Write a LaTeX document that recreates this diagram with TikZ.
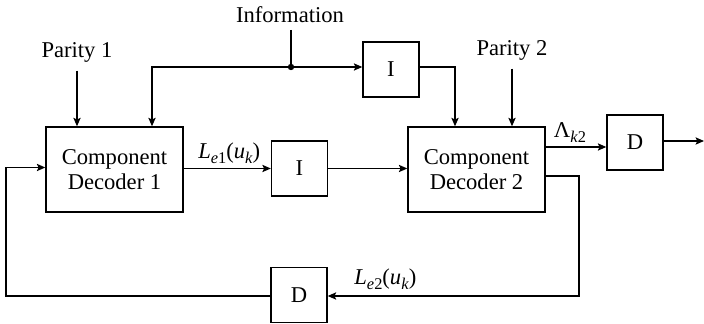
\documentclass[tikz,border=0pt]{standalone}
\usepackage{fontspec}
\setmainfont{Liberation Serif}
\usetikzlibrary{arrows.meta,calc}
\newcommand{\sub}[1]{\raisebox{-0.45ex}{\fontsize{8.2}{9}\selectfont #1}}
\begin{document}
\begin{tikzpicture}[x=0.5pt,y=-0.5pt,
  font=\fontsize{11.3}{13.5}\selectfont,
  line width=0.7pt,
  tip/.style={-{Stealth[length=4.2pt,width=3.6pt,inset=0.8pt]}},
  bigbox/.style={draw,minimum width=68.5pt,minimum height=42.5pt,inner sep=0pt,align=center},
  smallbox/.style={draw,minimum width=28pt,minimum height=27.5pt,inner sep=0pt},
  lbl/.style={inner sep=1pt}]
  \useasboundingbox (0,0) rectangle (704,324);

  % blocks
  \node[bigbox] (dec1) at (114.5,169.5) {Component\\[-1pt]Decoder 1};
  \node[bigbox] (dec2) at (476.5,169.5) {Component\\[-1pt]Decoder 2};
  \node[smallbox] (ia) at (391,69.5) {I};
  \node[smallbox] (ib) at (299.5,168.5) {I};
  \node[smallbox] (dout) at (635,142.5) {D};
  \node[smallbox] (dfb) at (299,295) {D};

  % inputs
  \node[lbl] (info) at (290,15) {Information};
  \node[lbl] (par1) at (77,52) {Parity 1};
  \node[lbl] (par2) at (512,50) {Parity 2};

  % branch point of the information stream
  \coordinate (jn) at (291,67);
  \fill (jn) circle (1.6pt);
  \draw (jn |- info.south) ++(0,4) -- (jn);
  \draw[tip] (jn) -- (jn -| ia.west);
  \draw[tip] (jn) -| ($(dec1.north)+(37.5,0)$);
  \draw[tip] ($(par1.south)+(0,6)$) -- (par1.south |- dec1.north);
  \draw[tip] ($(par2.south)+(0,6)$) -- (par2.south |- dec2.north);
  \draw[tip] (ia.east |- jn) -| ($(dec2.north)+(-21.5,0)$);

  % forward path
  \draw[tip] (dec1.east |- ib) -- node[lbl,above,yshift=1pt,xshift=1pt] (le1)
    {\textit{L}\sub{\textit{e}1}(\textit{u}\sub{\textit{k}})} (ib.west);
  \draw[tip] (ib.east) -- (ib.east -| dec2.west);
  \draw[tip] ($(dec2.east)+(0,-22.5)$) -- node[lbl,above,yshift=1pt,xshift=-3pt] (lam)
    {Λ\sub{\textit{k}2}} ($(dout.west)+(0,4.5)$);
  \coordinate (outend) at (704,141);
  \draw[tip] (dout.east |- outend) -- (outend);

  % feedback path
  \coordinate (fbr) at (579,296);
  \coordinate (fbl) at (6,296);
  \draw[tip] ($(dec2.east)+(0,6.5)$) -| (fbr) -- (fbr -| dfb.east)
    node[lbl,above right,xshift=12pt,yshift=2pt] (le2)
    {\textit{L}\sub{\textit{e}2}(\textit{u}\sub{\textit{k}})};
  \draw[tip] (dfb.west |- fbl) -- (fbl) |- ($(dec1.west)+(0,-2)$);
\end{tikzpicture}
\end{document}
